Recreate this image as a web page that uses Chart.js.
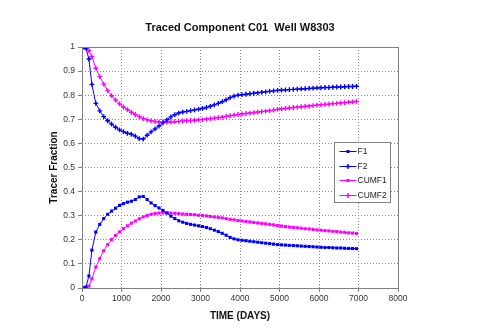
<!doctype html>
<html lang="en">
<head>
<meta charset="utf-8">
<title>Traced Component C01  Well W8303</title>
<script src="https://cdn.jsdelivr.net/npm/chart.js"></script>
<style>
html, body {margin: 0; padding: 0; background: #fff;}
#wrap {width: 480px; height: 328px;}
</style>
</head>
<body>
<div id="wrap"><canvas id="chart" width="480" height="328"></canvas></div>
<script>
// Temps (jours)
const times = [0, 50, 100, 175, 250, 350, 450, 550, 650, 750, 850, 950, 1050, 1150, 1250, 1350, 1450, 1550,
  1650, 1750, 1850, 1950, 2050, 2150, 2250, 2350, 2450, 2550, 2650, 2750, 2850, 2950, 3050, 3150, 3250, 3350,
  3450, 3550, 3650, 3750, 3850, 3950, 4050, 4150, 4250, 4350, 4450, 4550, 4650, 4750, 4850, 4950, 5050, 5150,
  5250, 5350, 5450, 5550, 5650, 5750, 5850, 5950, 6050, 6150, 6250, 6350, 6450, 6550, 6650, 6750, 6850, 6950];

const F1 = [0, 0, 0.004, 0.05, 0.157, 0.232, 0.264, 0.288, 0.306, 0.319, 0.331, 0.343, 0.350, 0.356, 0.360, 0.367, 0.378, 0.380,
  0.367, 0.353, 0.342, 0.332, 0.322, 0.311, 0.298, 0.288, 0.279, 0.273, 0.268, 0.264, 0.261, 0.258, 0.255, 0.251, 0.246, 0.240,
  0.234, 0.227, 0.219, 0.210, 0.204, 0.200, 0.198, 0.196, 0.194, 0.192, 0.190, 0.188, 0.186, 0.184, 0.182, 0.180, 0.179, 0.178,
  0.177, 0.176, 0.175, 0.174, 0.173, 0.172, 0.171, 0.170, 0.169, 0.168, 0.168, 0.167, 0.166, 0.166, 0.165, 0.164, 0.164, 0.163];

const F2 = [1, 1, 0.995, 0.95, 0.845, 0.766, 0.735, 0.711, 0.694, 0.680, 0.667, 0.656, 0.649, 0.642, 0.638, 0.630, 0.620, 0.618,
  0.634, 0.648, 0.660, 0.672, 0.685, 0.698, 0.710, 0.719, 0.726, 0.730, 0.733, 0.736, 0.739, 0.742, 0.745, 0.749, 0.754, 0.760,
  0.766, 0.773, 0.781, 0.790, 0.796, 0.800, 0.802, 0.804, 0.806, 0.808, 0.810, 0.812, 0.814, 0.816, 0.818, 0.820, 0.821, 0.822,
  0.823, 0.824, 0.825, 0.826, 0.827, 0.828, 0.829, 0.830, 0.831, 0.832, 0.832, 0.833, 0.834, 0.834, 0.835, 0.836, 0.836, 0.837];

const CUMF1 = [0, 0, 0.002, 0.008, 0.038, 0.087, 0.122, 0.155, 0.180, 0.201, 0.218, 0.233, 0.246, 0.258, 0.269, 0.278, 0.287, 0.295,
  0.301, 0.306, 0.309, 0.311, 0.312, 0.312, 0.311, 0.310, 0.309, 0.307, 0.306, 0.305, 0.304, 0.302, 0.301, 0.299, 0.297, 0.295,
  0.293, 0.291, 0.288, 0.285, 0.283, 0.280, 0.278, 0.276, 0.274, 0.272, 0.270, 0.268, 0.266, 0.264, 0.262, 0.259, 0.257, 0.255,
  0.253, 0.251, 0.250, 0.248, 0.246, 0.245, 0.243, 0.241, 0.240, 0.238, 0.237, 0.235, 0.234, 0.232, 0.231, 0.229, 0.228, 0.226];

const CUMF2 = [1, 1, 0.998, 0.985, 0.960, 0.912, 0.877, 0.846, 0.819, 0.798, 0.780, 0.764, 0.751, 0.740, 0.729, 0.720, 0.711, 0.703,
  0.698, 0.694, 0.691, 0.689, 0.688, 0.688, 0.689, 0.690, 0.691, 0.693, 0.694, 0.695, 0.696, 0.698, 0.699, 0.701, 0.703, 0.705,
  0.707, 0.709, 0.712, 0.715, 0.717, 0.720, 0.722, 0.724, 0.726, 0.728, 0.730, 0.732, 0.734, 0.736, 0.738, 0.741, 0.743, 0.745,
  0.747, 0.749, 0.750, 0.752, 0.754, 0.755, 0.757, 0.759, 0.760, 0.762, 0.763, 0.765, 0.766, 0.768, 0.769, 0.771, 0.772, 0.774];

const xTicks = [0, 1000, 2000, 3000, 4000, 5000, 6000, 7000, 8000];
const yTicks = [0, 0.1, 0.2, 0.3, 0.4, 0.5, 0.6, 0.7, 0.8, 0.9, 1];
const yTickLabels = ['0', '0.1', '0.2', '0.3', '0.4', '0.5', '0.6', '0.7', '0.8', '0.9', '1'];

const FONT = "'Liberation Sans', Arial, sans-serif";
const BLUE = '#0000ff';
const MAGENTA = '#ff00ff';

function points(values) {
  return times.map((t, i) => ({ x: t, y: values[i] }));
}

function serie(label, values, color, style) {
  const cross = style === 'cross';
  return {
    label: label,
    data: points(values),
    borderColor: color,
    backgroundColor: color,
    borderWidth: 1,
    pointStyle: style,
    pointRadius: cross ? 2.4 : 2.2,
    pointBorderWidth: cross ? 1.4 : 0,
    pointBorderColor: color,
    pointBackgroundColor: color,
    fill: false,
    tension: 0
  };
}

// cadre du graphique + légende dessinée à la main
const frame = {
  id: 'frame',
  afterDraw(chart) {
    const ctx = chart.ctx;
    const a = chart.chartArea;
    ctx.save();
    ctx.strokeStyle = '#808080';
    ctx.lineWidth = 1;
    ctx.setLineDash([]);
    ctx.strokeRect(Math.round(a.left) + 0.5, Math.round(a.top) + 0.5, Math.round(a.right - a.left), Math.round(a.bottom - a.top));

    // légende
    const bx = 334.5, by = 142.5, bw = 56, bh = 60;
    ctx.fillStyle = '#fff';
    ctx.fillRect(bx, by, bw, bh);
    ctx.strokeStyle = '#808080';
    ctx.strokeRect(bx, by, bw, bh);
    ctx.font = '8.5px ' + FONT;
    ctx.textBaseline = 'middle';
    chart.data.datasets.forEach((ds, i) => {
      const y = Math.round(by + 8.5 + i * 14.7) + 0.5;
      ctx.strokeStyle = ds.borderColor;
      ctx.fillStyle = ds.borderColor;
      ctx.lineWidth = 1;
      ctx.beginPath();
      ctx.moveTo(bx + 5, y);
      ctx.lineTo(bx + 22, y);
      ctx.stroke();
      if (ds.pointStyle === 'rect') {
        ctx.fillRect(bx + 13.5 - 1.5, y - 1.5, 3, 3);
      } else {
        ctx.lineWidth = 1.4;
        Chart.helpers.drawPoint(ctx, { pointStyle: 'cross', radius: ds.pointRadius, borderWidth: 1.4, rotation: 0 }, bx + 13.5, y);
      }
      ctx.fillStyle = '#222';
      ctx.fillText(ds.label, bx + 23, y + 0.5);
    });
    ctx.restore();
  }
};

const ctx = document.getElementById('chart').getContext('2d');
new Chart(ctx, {
  type: 'line',
  data: {
    datasets: [
      serie('F1', F1, BLUE, 'rect'),
      serie('F2', F2, BLUE, 'cross'),
      serie('CUMF1', CUMF1, MAGENTA, 'rect'),
      serie('CUMF2', CUMF2, MAGENTA, 'cross')
    ]
  },
  options: {
    responsive: false,
    animation: false,
    events: [],
    layout: { padding: 0 },
    scales: {
      x: {
        type: 'linear',
        min: 0,
        max: 8000,
        afterBuildTicks: (scale) => { scale.ticks = xTicks.map(v => ({ value: v })); },
        afterFit: (scale) => { scale.height = 40; },
        ticks: {
          color: '#333',
          font: { family: FONT, size: 8.5 },
          padding: 2,
          maxRotation: 0,
          callback: (v) => String(v)
        },
        grid: { color: '#8a8a8a', tickLength: 4, tickColor: '#808080' },
        border: { display: false, dash: [1, 2] },
        title: {
          display: true,
          text: 'TIME (DAYS)',
          color: '#111',
          font: { family: FONT, size: 10, weight: 'bold' },
          padding: { top: 0, bottom: 6 }
        }
      },
      y: {
        min: 0,
        max: 1,
        afterBuildTicks: (scale) => { scale.ticks = yTicks.map(v => ({ value: v })); },
        afterFit: (scale) => { scale.width = 82; },
        ticks: {
          color: '#333',
          font: { family: FONT, size: 8.5 },
          padding: 3,
          callback: (v, i) => yTickLabels[i]
        },
        grid: { color: '#8a8a8a', tickLength: 4, tickColor: '#808080' },
        border: { display: false, dash: [1, 2] },
        title: {
          display: true,
          text: 'Tracer Fraction',
          color: '#111',
          font: { family: FONT, size: 10, weight: 'bold' },
          padding: { top: 48, bottom: 0 }
        }
      },
      // axe vide à droite pour réserver la marge
      yRight: {
        position: 'right',
        min: 0,
        max: 1,
        afterFit: (scale) => { scale.width = 82; },
        ticks: { display: false },
        grid: { display: false },
        border: { display: false }
      }
    },
    plugins: {
      legend: { display: false },
      tooltip: { enabled: false },
      title: {
        display: true,
        text: 'Traced Component C01  Well W8303',
        color: '#111',
        font: { family: FONT, size: 11, weight: 'bold', lineHeight: 1.2 },
        padding: { top: 21.5, bottom: 12.3 }
      }
    }
  },
  plugins: [frame]
});
</script>
</body>
</html>
